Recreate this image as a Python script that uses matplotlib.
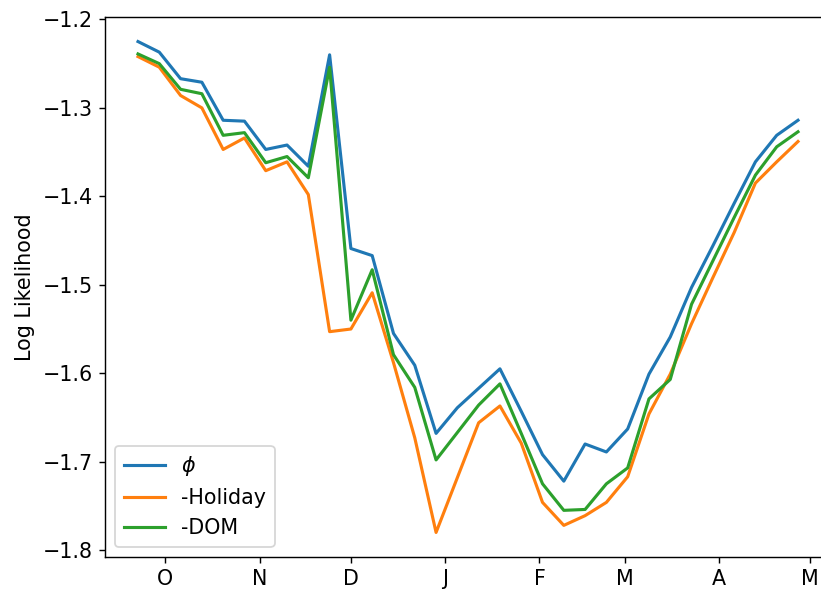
import matplotlib
matplotlib.use("Agg")
import matplotlib.pyplot as plt
import matplotlib.dates as mdates
import matplotlib.ticker as mticker
import numpy as np
import pandas as pd

# semaines (une valeur par semaine)
dates = pd.date_range("2017-09-22", periods=32, freq="7D")

phi = [-1.225, -1.237, -1.267, -1.271, -1.314, -1.315, -1.347, -1.342,
       -1.366, -1.240, -1.459, -1.467, -1.555, -1.591, -1.668, -1.639,
       -1.617, -1.595, -1.643, -1.692, -1.722, -1.680, -1.689, -1.663,
       -1.601, -1.559, -1.503, -1.456, -1.408, -1.361, -1.331, -1.314]

holiday = [-1.242, -1.254, -1.286, -1.300, -1.347, -1.334, -1.371, -1.361,
           -1.398, -1.553, -1.550, -1.509, -1.588, -1.673, -1.780, -1.718,
           -1.656, -1.637, -1.679, -1.746, -1.772, -1.761, -1.746, -1.717,
           -1.646, -1.601, -1.544, -1.492, -1.441, -1.385, -1.361, -1.338]

dom = [-1.239, -1.250, -1.279, -1.284, -1.331, -1.328, -1.362, -1.355,
       -1.379, -1.254, -1.540, -1.483, -1.579, -1.616, -1.698, -1.667,
       -1.636, -1.612, -1.668, -1.725, -1.755, -1.754, -1.725, -1.707,
       -1.629, -1.607, -1.522, -1.473, -1.424, -1.376, -1.344, -1.327]

labels = [r"$\phi$", "-Holiday", "-DOM"]

plt.rcParams['font.size'] = 11.6
plt.rcParams['lines.linewidth'] = 1.75

dpi = 128
fig = plt.figure(figsize=(821 / dpi, 593 / dpi), dpi=dpi)
ax = fig.add_axes([105 / 821, 36 / 593, 726 / 821, 540 / 593])

for serie, lab in zip([phi, holiday, dom], labels):
    ax.plot(dates, serie, label=lab)

ax.xaxis.set_major_locator(mdates.MonthLocator())
ax.xaxis.set_major_formatter(
    mticker.FuncFormatter(lambda x, pos: mdates.num2date(x).strftime("%b")[0]))
ax.set_ylabel("Log Likelihood")
ax.legend(loc="lower left")

fig.savefig("out.png", dpi=dpi)
